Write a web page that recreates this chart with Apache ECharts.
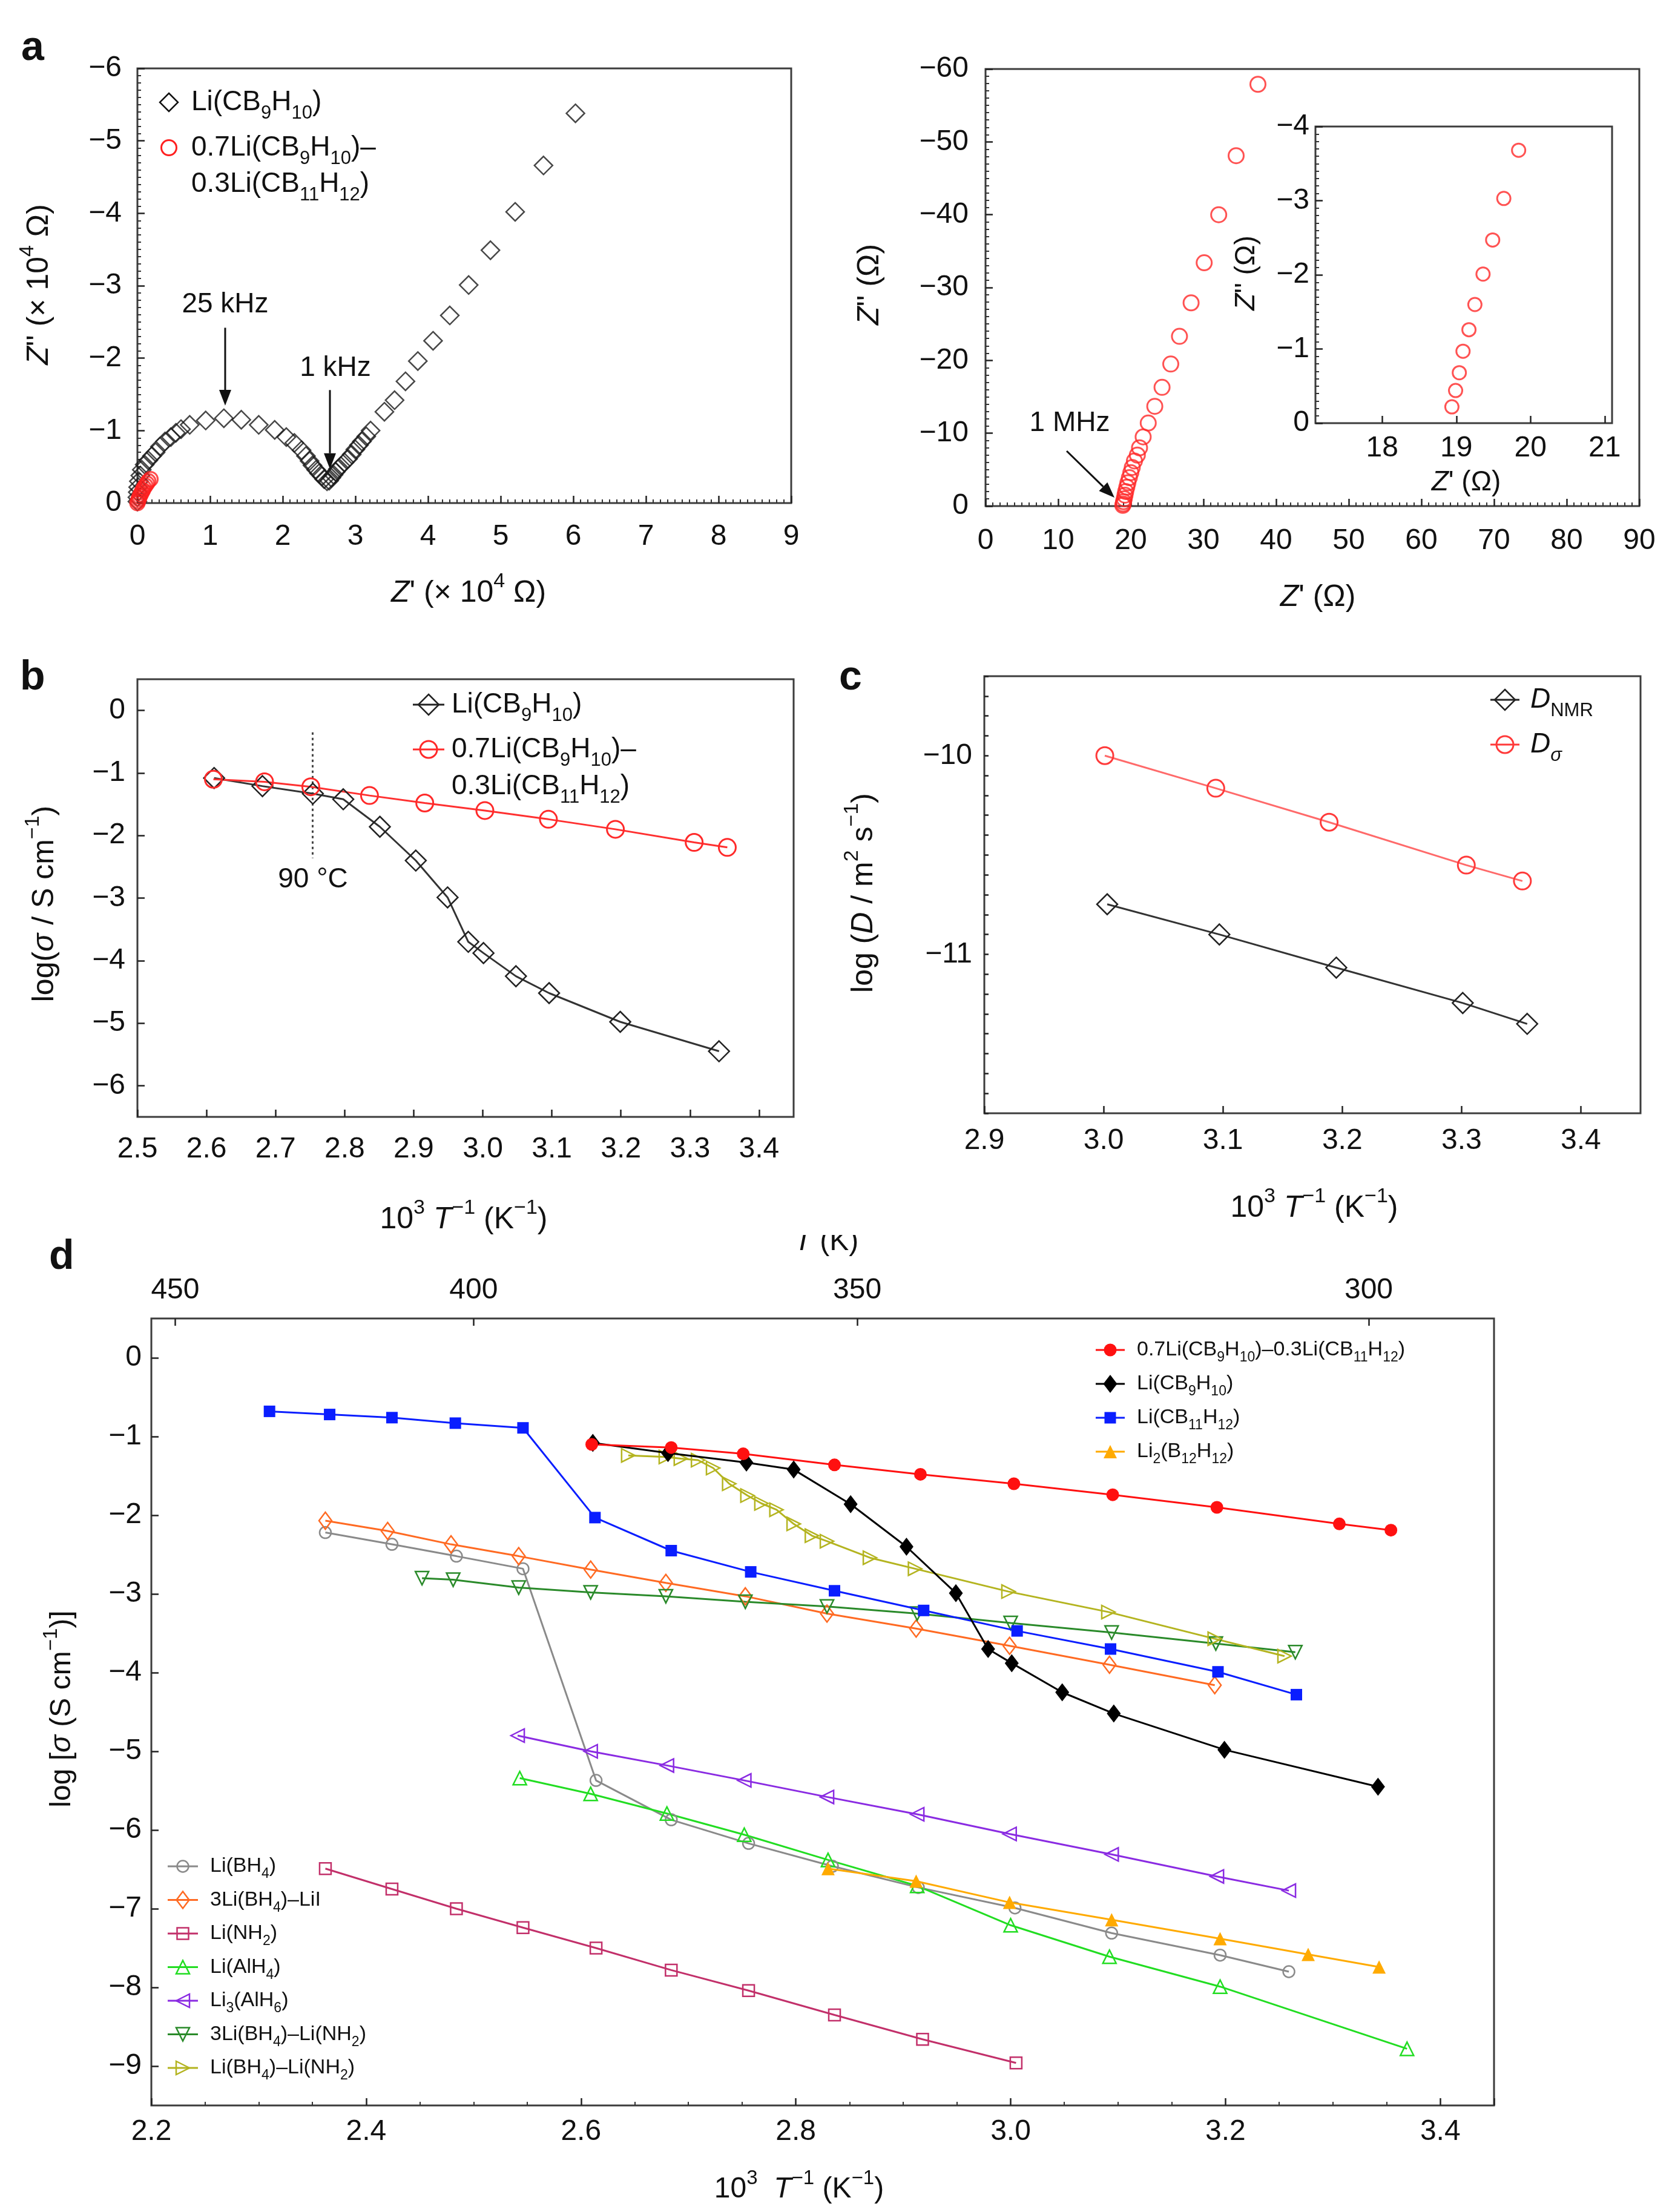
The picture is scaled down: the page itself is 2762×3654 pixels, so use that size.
<!DOCTYPE html>
<html><head><meta charset="utf-8">
<script src="https://cdn.jsdelivr.net/npm/echarts@6/dist/echarts.min.js"></script>
<style>html,body{margin:0;padding:0;background:#fff}#c{width:2762px;height:3654px}</style>
</head><body><div id="c"></div>
<script>
const FONT = '"Liberation Sans", Arial, Helvetica, sans-serif';

// ================= DATA =================
// Panel a (left): Nyquist plot, Z' and Z'' in units of 10^4 ohm
const nyqCB9H10 = [[0.0,-0.02],[0.0,-0.08],[0.005,-0.15],[0.01,-0.22],[0.02,-0.30],[0.04,-0.38],[0.06,-0.46],[0.10,-0.53],[0.15,-0.59],[0.20,-0.65],[0.25,-0.70],[0.31,-0.78],[0.38,-0.85],[0.46,-0.91],[0.53,-0.97],[0.60,-1.02],[0.72,-1.08],[0.94,-1.14],[1.19,-1.17],[1.43,-1.15],[1.67,-1.08],[1.89,-1.01],[2.05,-0.91],[2.16,-0.83],[2.26,-0.73],[2.32,-0.65],[2.37,-0.58],[2.41,-0.52],[2.46,-0.46],[2.50,-0.41],[2.54,-0.37],[2.57,-0.33],[2.61,-0.30],[2.64,-0.31],[2.67,-0.35],[2.70,-0.39],[2.73,-0.43],[2.76,-0.47],[2.80,-0.51],[2.85,-0.56],[2.90,-0.61],[2.95,-0.67],[3.00,-0.74],[3.05,-0.80],[3.09,-0.85],[3.15,-0.92],[3.21,-1.00],[3.40,-1.26],[3.54,-1.42],[3.69,-1.68],[3.86,-1.96],[4.07,-2.24],[4.30,-2.59],[4.56,-3.01],[4.86,-3.49],[5.20,-4.02],[5.59,-4.66],[6.03,-5.38]];
const nyqMixLeft = [[0.0,0.0],[0.01,-0.03],[0.02,-0.06],[0.03,-0.09],[0.045,-0.12],[0.06,-0.15],[0.075,-0.18],[0.09,-0.21],[0.11,-0.24],[0.13,-0.27],[0.15,-0.30],[0.18,-0.33]];
// Panel a (right): ohm
const nyqMix = [[18.9,-0.1],[18.95,-0.3],[19.0,-0.6],[19.1,-1.0],[19.2,-1.5],[19.3,-2.0],[19.45,-2.6],[19.6,-3.2],[19.8,-3.9],[20.0,-4.6],[20.2,-5.3],[20.5,-6.2],[20.9,-7.0],[21.2,-8.0],[21.7,-9.5],[22.4,-11.4],[23.3,-13.7],[24.3,-16.3],[25.5,-19.5],[26.7,-23.3],[28.3,-27.9],[30.1,-33.4],[32.1,-40.0],[34.5,-48.1],[37.5,-57.9]];
const nyqMixInset = [[18.94,-0.22],[18.99,-0.44],[19.04,-0.68],[19.09,-0.97],[19.17,-1.26],[19.25,-1.60],[19.36,-2.01],[19.49,-2.47],[19.64,-3.03],[19.84,-3.68]];
// Panel b: 1000/T (K^-1) and log(sigma / S cm^-1)
const invT_CB9H10 = [2.611,2.681,2.754,2.798,2.851,2.903,2.949,2.979,3.001,3.048,3.096,3.199,3.342];
const logS_CB9H10 = [-1.08,-1.21,-1.33,-1.42,-1.86,-2.40,-2.99,-3.70,-3.88,-4.25,-4.52,-4.98,-5.45];
const invT_mix = [2.610,2.684,2.751,2.836,2.916,3.003,3.095,3.192,3.306,3.354];
const logS_mix = [-1.10,-1.14,-1.22,-1.36,-1.48,-1.60,-1.74,-1.90,-2.11,-2.19];
const invT_90C = 1000 / (90 + 273.15);
const span_90C = [-0.35, -2.36];
// Panel c: log(D / m^2 s^-1)
const invT_NMR = [3.003,3.097,3.195,3.301,3.355];
const logD_NMR = [-10.748,-10.90,-11.067,-11.245,-11.35];
const invT_Dsig = [3.001,3.094,3.189,3.304,3.351];
const logD_sig = [-10.00,-10.164,-10.335,-10.551,-10.631];
// Panel d: log(sigma / S cm^-1) vs 1000/T
const dCB11_x = [2.310,2.366,2.424,2.483,2.546,2.613,2.684,2.758,2.836,2.919,3.006,3.093,3.193,3.266];
const dCB11_y = [-0.68,-0.72,-0.76,-0.83,-0.89,-2.03,-2.45,-2.72,-2.96,-3.21,-3.47,-3.70,-3.99,-4.28];
const dB12_x = [2.830,2.912,2.999,3.094,3.195,3.277,3.343];
const dB12_y = [-6.49,-6.65,-6.92,-7.14,-7.38,-7.58,-7.74];
const dBH4_x = [2.362,2.424,2.484,2.546,2.614,2.684,2.756,2.834,2.914,3.004,3.094,3.195,3.259];
const dBH4_y = [-2.22,-2.37,-2.52,-2.68,-5.37,-5.87,-6.17,-6.46,-6.73,-6.99,-7.31,-7.59,-7.80];
const dBH4LiI_x = [2.362,2.420,2.479,2.542,2.609,2.679,2.753,2.829,2.912,2.999,3.092,3.190];
const dBH4LiI_y = [-2.07,-2.20,-2.37,-2.52,-2.69,-2.86,-3.03,-3.25,-3.44,-3.66,-3.90,-4.16];
const dNH2_x = [2.362,2.424,2.484,2.546,2.614,2.684,2.756,2.836,2.918,3.005];
const dNH2_y = [-6.49,-6.75,-7.00,-7.24,-7.50,-7.78,-8.04,-8.35,-8.66,-8.96];
const dAlH4_x = [2.543,2.609,2.680,2.752,2.830,2.913,3.000,3.092,3.195,3.369];
const dAlH4_y = [-5.34,-5.54,-5.79,-6.06,-6.38,-6.71,-7.21,-7.61,-7.99,-8.78];
const dAlH6_x = [2.541,2.609,2.680,2.752,2.829,2.913,2.999,3.094,3.192,3.259];
const dAlH6_y = [-4.80,-5.00,-5.18,-5.37,-5.58,-5.80,-6.05,-6.31,-6.59,-6.77];
const d3BH4NH2_x = [2.452,2.481,2.542,2.609,2.679,2.753,2.829,2.913,3.000,3.094,3.191,3.265];
const d3BH4NH2_y = [-2.80,-2.82,-2.92,-2.98,-3.03,-3.10,-3.16,-3.25,-3.37,-3.49,-3.63,-3.74];
const dBH4NH2_x = [2.644,2.679,2.693,2.709,2.723,2.738,2.755,2.768,2.782,2.798,2.815,2.829,2.869,2.911,2.998,3.091,3.190,3.255];
const dBH4NH2_y = [-1.24,-1.26,-1.28,-1.30,-1.40,-1.60,-1.75,-1.85,-1.93,-2.11,-2.26,-2.33,-2.54,-2.68,-2.97,-3.23,-3.57,-3.79];
// tick labels
const topTempLabels = [450, 400, 350, 300];
const bYTicks = [-6,-5,-4,-3,-2,-1,0];
const dYTicks = [-9,-8,-7,-6,-5,-4,-3,-2,-1,0];
const insetXTicks = [18,19,20,21];
// annotation arrows (data coordinates: from, to)
const arrow25k = [[1.208,-2.42],[1.208,-1.345]];
const arrow1k = [[2.65,-1.56],[2.65,-0.47]];
const arrow1M = [[11.17,-7.56],[17.75,-1.16]];

// ================= HELPERS =================
const zip = (xs, ys) => xs.map((x, i) => [x, ys[i]]);
const minus = s => String(s).replace('-', '\u2212');
const chem = s => s.replace(/([A-Za-z\)])(\d+)/g, '$1{s|$2}');
function RICH(fs, color) {
  const c = color || '#111';
  const sfs = Math.round(fs * 0.68);
  const L = Math.round(fs * 1.45);
  return {
    i: {fontFamily: FONT, fontSize: fs, fontStyle: 'italic', lineHeight: L, fill: c},
    s: {fontFamily: FONT, fontSize: sfs, lineHeight: sfs, verticalAlign: 'bottom', fill: c},
    si: {fontFamily: FONT, fontSize: sfs, fontStyle: 'italic', lineHeight: sfs, verticalAlign: 'bottom', fill: c},
    p: {fontFamily: FONT, fontSize: sfs, lineHeight: Math.round(fs * 0.95), verticalAlign: 'top', fill: c}
  };
}
function T(x, y, text, fs, opt) {
  opt = opt || {};
  return {type: 'text', x: x, y: y, z: opt.z || 100, rotation: opt.rot || 0,
    style: {text: text, fill: '#111', fontFamily: FONT, fontSize: fs, fontWeight: opt.bold ? 'bold' : 'normal',
      lineHeight: Math.round(fs * 1.45), align: opt.align || 'center', verticalAlign: 'middle', rich: RICH(fs)}};
}
function mk(shape, cx, cy, s, fill, stroke, lw) {
  const w = (Array.isArray(s) ? s[0] : s) / 2, h = (Array.isArray(s) ? s[1] : s) / 2;
  const st = {fill: fill, stroke: stroke, lineWidth: lw};
  if (shape === 'circle') return {type: 'circle', z: 100, shape: {cx: cx, cy: cy, r: w}, style: st};
  if (shape === 'rect') return {type: 'rect', z: 100, shape: {x: cx - w, y: cy - h, width: 2 * w, height: 2 * h}, style: st};
  let pts;
  if (shape === 'diamond') pts = [[cx, cy - h], [cx + w, cy], [cx, cy + h], [cx - w, cy]];
  else if (shape === 'triUp') pts = [[cx, cy - h], [cx + w, cy + h], [cx - w, cy + h]];
  else if (shape === 'triDown') pts = [[cx - w, cy - h], [cx + w, cy - h], [cx, cy + h]];
  else if (shape === 'triLeft') pts = [[cx - w, cy], [cx + w, cy - h], [cx + w, cy + h]];
  else pts = [[cx + w, cy], [cx - w, cy - h], [cx - w, cy + h]];
  return {type: 'polygon', z: 100, shape: {points: pts}, style: st};
}
const EMPTY = 'rgba(255,255,255,0)';
function legendItem(cx, cy, halfLine, st, textX, text, fs) {
  const els = [];
  if (halfLine) els.push({type: 'line', z: 99, shape: {x1: cx - halfLine, y1: cy, x2: cx + halfLine, y2: cy}, style: {stroke: st.color, lineWidth: 3}});
  els.push(mk(st.lshape, cx, cy, st.size, st.filled ? st.color : EMPTY, st.color, st.filled ? 0 : (st.bw || 2.5)));
  els.push(T(textX, cy, text, fs, {align: 'left'}));
  return els;
}
function vAxis(o) {
  return {
    type: 'value', gridIndex: o.grid, min: o.min, max: o.max, interval: o.interval, inverse: !!o.inverse,
    position: o.position,
    axisLine: {show: false, onZero: false}, splitLine: {show: false},
    axisTick: {show: o.tick !== false, inside: true, length: o.tickLen || 12, lineStyle: {color: '#222', width: 2.5}, customValues: o.custom},
    minorTick: {show: !!o.minor, splitNumber: o.minor || 5, length: o.minorLen || 6, lineStyle: {color: '#333', width: 2}},
    axisLabel: {show: true, margin: o.margin, fontFamily: FONT, fontSize: o.fs || 48, color: '#111',
      formatter: o.fmt || (v => minus(v)), customValues: o.custom,
      showMaxLabel: o.showMax, showMinLabel: o.showMin, hideOverlap: false}
  };
}

// ================= STYLES =================
const dStyle = {
  mix:   {color: '#ff1010', symbol: 'circle',  size: 21, filled: true, lshape: 'circle'},
  cb9:   {color: '#000000', symbol: 'diamond', size: [23, 30], filled: true, lshape: 'diamond'},
  cb11:  {color: '#0a1eff', symbol: 'rect',    size: 19, filled: true, lshape: 'rect'},
  b12:   {color: '#ffaa00', symbol: 'triangle', size: 22, filled: true, lshape: 'triUp'},
  bh4:   {color: '#8a8a8a', symbol: 'circle',  size: 19, filled: false, lshape: 'circle'},
  bh4lii:{color: '#ff6a22', symbol: 'diamond', size: [21, 28], filled: false, lshape: 'diamond'},
  nh2:   {color: '#c2306a', symbol: 'rect',    size: 19, filled: false, lshape: 'rect'},
  alh4:  {color: '#22dd22', symbol: 'triangle', size: 22, filled: false, lshape: 'triUp'},
  alh6:  {color: '#8a2be2', symbol: 'triangle', size: 22, rot: 90, filled: false, lshape: 'triLeft'},
  bnh3:  {color: '#2a8a2a', symbol: 'triangle', size: 22, rot: 180, filled: false, lshape: 'triDown'},
  bnh:   {color: '#b4b420', symbol: 'triangle', size: 22, rot: -90, filled: false, lshape: 'triRight'}
};
function dLine(name, xs, ys, st, z) {
  return {type: 'line', name: name, xAxisIndex: 5, yAxisIndex: 5, data: zip(xs, ys), z: z || 2,
    symbol: st.symbol, symbolSize: st.size, symbolRotate: st.rot || 0, showAllSymbol: true,
    lineStyle: {color: st.color, width: 3},
    itemStyle: st.filled ? {color: st.color} : {color: EMPTY, borderColor: st.color, borderWidth: 2.5}};
}

const gridBase = {show: true, borderColor: '#3c3c3c', borderWidth: 3, backgroundColor: '#fff', containLabel: false};
const fmt1 = v => minus(v.toFixed(1));

const option = {
  animation: false,
  backgroundColor: '#fff',
  textStyle: {fontFamily: FONT},
  grid: [
    Object.assign({left: 227, top: 113, width: 1080, height: 718}, gridBase),
    Object.assign({left: 1628, top: 114, width: 1080, height: 722}, gridBase),
    Object.assign({left: 2173, top: 209, width: 490, height: 490}, gridBase),
    Object.assign({left: 227, top: 1122, width: 1084, height: 723}, gridBase),
    Object.assign({left: 1626, top: 1117, width: 1084, height: 722}, gridBase),
    Object.assign({left: 250, top: 2178, width: 2218, height: 1300}, gridBase)
  ],
  xAxis: [
    vAxis({grid: 0, min: 0, max: 9, interval: 1, minor: 10, margin: 32}),
    vAxis({grid: 1, min: 0, max: 90, interval: 10, minor: 10, margin: 34}),
    vAxis({grid: 2, min: 17.1, max: 21.1, custom: insetXTicks, margin: 18, fmt: v => String(v)}),
    vAxis({grid: 3, min: 2.5, max: 3.45, interval: 0.1, margin: 30, fmt: fmt1, showMax: false}),
    vAxis({grid: 4, min: 2.9, max: 3.45, interval: 0.1, margin: 22, fmt: fmt1, showMax: false}),
    vAxis({grid: 5, min: 2.2, max: 3.45, interval: 0.2, minor: 4, margin: 20, fmt: fmt1, showMax: false}),
    vAxis({grid: 5, min: 2.2, max: 3.45, position: 'top', custom: topTempLabels.map(t => 1000 / t), margin: 22,
      fmt: v => String(Math.round(1000 / v))})
  ],
  yAxis: [
    vAxis({grid: 0, min: -6, max: 0, interval: 1, inverse: true, minor: 10, margin: 26}),
    vAxis({grid: 1, min: -60, max: 0, interval: 10, inverse: true, minor: 10, margin: 28}),
    vAxis({grid: 2, min: -4, max: 0, interval: 1, inverse: true, minor: 10, margin: 10}),
    vAxis({grid: 3, min: -6.5, max: 0.5, custom: bYTicks, margin: 20}),
    vAxis({grid: 4, min: -11.8, max: -9.6, interval: 0.1, tickLen: 7, margin: 20,
      fmt: v => Math.abs(v - Math.round(v)) < 1e-6 ? minus(Math.round(v)) : ''}),
    vAxis({grid: 5, min: -9.5, max: 0.5, custom: dYTicks, margin: 16})
  ],
  series: [
    // ---- a left
    {type: 'scatter', xAxisIndex: 0, yAxisIndex: 0, data: nyqCB9H10, symbol: 'diamond', symbolSize: 30,
      itemStyle: {color: EMPTY, borderColor: '#1a1a1a', borderWidth: 2.5}},
    {type: 'scatter', xAxisIndex: 0, yAxisIndex: 0, data: nyqMixLeft, symbol: 'circle', symbolSize: 24,
      itemStyle: {color: EMPTY, borderColor: '#ff2020', borderWidth: 3}},
    // ---- a right
    {type: 'scatter', xAxisIndex: 1, yAxisIndex: 1, data: nyqMix, symbol: 'circle', symbolSize: 25,
      itemStyle: {color: EMPTY, borderColor: '#ff2828', borderWidth: 3}},
    {type: 'scatter', xAxisIndex: 2, yAxisIndex: 2, data: nyqMixInset, symbol: 'circle', symbolSize: 22, z: 5,
      itemStyle: {color: EMPTY, borderColor: '#ff2828', borderWidth: 3}},
    // ---- b
    {type: 'line', xAxisIndex: 3, yAxisIndex: 3, data: [[invT_90C, span_90C[0]], [invT_90C, span_90C[1]]], symbol: 'none',
      lineStyle: {color: '#444', width: 3, type: [4, 5]}},
    {type: 'line', xAxisIndex: 3, yAxisIndex: 3, data: zip(invT_CB9H10, logS_CB9H10), symbol: 'diamond', symbolSize: 34, showAllSymbol: true,
      lineStyle: {color: '#333', width: 3}, itemStyle: {color: EMPTY, borderColor: '#222', borderWidth: 2.5}},
    {type: 'line', xAxisIndex: 3, yAxisIndex: 3, data: zip(invT_mix, logS_mix), symbol: 'circle', symbolSize: 28, showAllSymbol: true,
      lineStyle: {color: '#ff3030', width: 3}, itemStyle: {color: EMPTY, borderColor: '#ff2a2a', borderWidth: 3}},
    // ---- c
    {type: 'line', xAxisIndex: 4, yAxisIndex: 4, data: zip(invT_NMR, logD_NMR), symbol: 'diamond', symbolSize: 34, showAllSymbol: true,
      lineStyle: {color: '#333', width: 3}, itemStyle: {color: EMPTY, borderColor: '#222', borderWidth: 2.5}},
    {type: 'line', xAxisIndex: 4, yAxisIndex: 4, data: zip(invT_Dsig, logD_sig), symbol: 'circle', symbolSize: 28, showAllSymbol: true,
      lineStyle: {color: '#ff6a6a', width: 3}, itemStyle: {color: EMPTY, borderColor: '#ff3a3a', borderWidth: 3}},
    // ---- d
    dLine('Li(BH4)', dBH4_x, dBH4_y, dStyle.bh4),
    dLine('3Li(BH4)–LiI', dBH4LiI_x, dBH4LiI_y, dStyle.bh4lii),
    dLine('Li(NH2)', dNH2_x, dNH2_y, dStyle.nh2),
    dLine('Li(AlH4)', dAlH4_x, dAlH4_y, dStyle.alh4),
    dLine('Li3(AlH6)', dAlH6_x, dAlH6_y, dStyle.alh6),
    dLine('3Li(BH4)–Li(NH2)', d3BH4NH2_x, d3BH4NH2_y, dStyle.bnh3),
    dLine('Li(BH4)–Li(NH2)', dBH4NH2_x, dBH4NH2_y, dStyle.bnh),
    dLine('Li2(B12H12)', dB12_x, dB12_y, dStyle.b12, 3),
    dLine('Li(CB11H12)', dCB11_x, dCB11_y, dStyle.cb11, 3),
    dLine('Li(CB9H10)', invT_CB9H10, logS_CB9H10, dStyle.cb9, 3),
    dLine('0.7Li(CB9H10)–0.3Li(CB11H12)', invT_mix, logS_mix, dStyle.mix, 3)
  ],
  graphic: {elements: []}
};

// ================= TEXT / LEGENDS =================
const G = option.graphic.elements;
// panel letters
G.push(T(35, 80, 'a', 68, {bold: true, align: 'left'}));
G.push(T(33, 1120, 'b', 68, {bold: true, align: 'left'}));
G.push(T(1386, 1120, 'c', 68, {bold: true, align: 'left'}));
G.push(T(81, 2077, 'd', 68, {bold: true, align: 'left'}));
// axis titles
const RV = Math.PI / 2;
G.push(T(65, 470, "{i|Z}'' (× 10{p|4} Ω)", 50, {rot: RV}));
G.push(T(774, 980, "{i|Z}' (× 10{p|4} Ω)", 50));
G.push(T(1437, 470, "{i|Z}'' (Ω)", 50, {rot: RV}));
G.push(T(2177, 987, "{i|Z}' (Ω)", 50));
G.push(T(2059, 451, "{i|Z}'' (Ω)", 46, {rot: RV}));
G.push(T(2422, 797, "{i|Z}' (Ω)", 46));
G.push(T(74, 1493, 'log({i|σ} / S cm{p|−1})', 50, {rot: RV}));
G.push(T(766, 2015, '10{p|3} {i|T}{p|−1} (K{p|−1})', 50));
G.push(T(1427, 1475, 'log ({i|D} / m{p|2} s{p|−1})', 50, {rot: RV}));
G.push(T(2171, 1996, '10{p|3} {i|T}{p|−1} (K{p|−1})', 50));
G.push(T(103, 2823, 'log [{i|σ} (S cm{p|−1})]', 48, {rot: RV}));
G.push(T(1320, 3617, '10{p|3}  {i|T}{p|−1} (K{p|−1})', 48));
// top-axis title of d: its upper part is hidden under the strip above, as in the figure
G.push(T(1365, 2052, '{i|T} (K)', 48, {z: 90}));
G.push({type: 'rect', z: 95, shape: {x: 1290, y: 2010, width: 150, height: 30}, style: {fill: '#fff'}});
// annotations
G.push(T(372, 503, '25 kHz', 46));
G.push(T(554, 608, '1 kHz', 46));
G.push(T(1767, 699, '1 MHz', 46));
G.push(T(517, 1453, '90 °C', 46));
// legend a
G.push.apply(G, legendItem(279, 169, 0, {color: '#111', lshape: 'diamond', size: 30, filled: false}, 316, chem('Li(CB9H10)'), 46));
G.push.apply(G, legendItem(279, 244, 0, {color: '#ff2020', lshape: 'circle', size: 25, filled: false, bw: 3}, 316, chem('0.7Li(CB9H10)–'), 46));
G.push(T(316, 304, chem('0.3Li(CB11H12)'), 46, {align: 'left'}));
// legend b
G.push.apply(G, legendItem(708, 1164, 26, {color: '#222', lshape: 'diamond', size: 34, filled: false}, 746, chem('Li(CB9H10)'), 46));
G.push.apply(G, legendItem(708, 1238, 26, {color: '#ff2a2a', lshape: 'circle', size: 28, filled: false, bw: 3}, 746, chem('0.7Li(CB9H10)–'), 46));
G.push(T(746, 1299, chem('0.3Li(CB11H12)'), 46, {align: 'left'}));
// legend c
G.push.apply(G, legendItem(2486, 1156, 24, {color: '#222', lshape: 'diamond', size: 34, filled: false}, 2528, '{i|D}{s|NMR}', 46));
G.push.apply(G, legendItem(2486, 1230, 24, {color: '#ff3a3a', lshape: 'circle', size: 28, filled: false, bw: 3}, 2528, '{i|D}{si|σ}', 46));
// legend d (top right)
const dTop = [['mix', '0.7Li(CB9H10)–0.3Li(CB11H12)'], ['cb9', 'Li(CB9H10)'], ['cb11', 'Li(CB11H12)'], ['b12', 'Li2(B12H12)']];
dTop.forEach((e, i) => G.push.apply(G, legendItem(1834, 2230 + i * 56, 24, dStyle[e[0]], 1878, chem(e[1]), 34)));
// legend d (bottom left)
const dBot = [['bh4', 'Li(BH4)'], ['bh4lii', '3Li(BH4)–LiI'], ['nh2', 'Li(NH2)'], ['alh4', 'Li(AlH4)'], ['alh6', 'Li3(AlH6)'], ['bnh3', '3Li(BH4)–Li(NH2)'], ['bnh', 'Li(BH4)–Li(NH2)']];
dBot.forEach((e, i) => G.push.apply(G, legendItem(302, 3083 + i * 55.5, 25, dStyle[e[0]], 347, chem(e[1]), 34)));

const chart = echarts.init(document.getElementById('c'), null, {renderer: 'canvas', width: 2762, height: 3654});
chart.setOption(option);

// arrows: positions converted from data coordinates through the axes
function arrowEls(finder, pair) {
  const a = chart.convertToPixel(finder, pair[0]);
  const b = chart.convertToPixel(finder, pair[1]);
  const dx = b[0] - a[0], dy = b[1] - a[1];
  const len = Math.sqrt(dx * dx + dy * dy), ux = dx / len, uy = dy / len;
  const hl = 26, hw = 10;
  const bx = b[0] - ux * hl, by = b[1] - uy * hl;
  return [
    {type: 'line', z: 100, shape: {x1: a[0], y1: a[1], x2: bx, y2: by}, style: {stroke: '#111', lineWidth: 3}},
    {type: 'polygon', z: 100, shape: {points: [[b[0], b[1]], [bx - uy * hw, by + ux * hw], [bx + uy * hw, by - ux * hw]]}, style: {fill: '#111'}}
  ];
}
const arrows = [].concat(
  arrowEls({xAxisIndex: 0, yAxisIndex: 0}, arrow25k),
  arrowEls({xAxisIndex: 0, yAxisIndex: 0}, arrow1k),
  arrowEls({xAxisIndex: 1, yAxisIndex: 1}, arrow1M)
);
chart.setOption({graphic: {elements: G.concat(arrows)}});
</script>
</body></html>
